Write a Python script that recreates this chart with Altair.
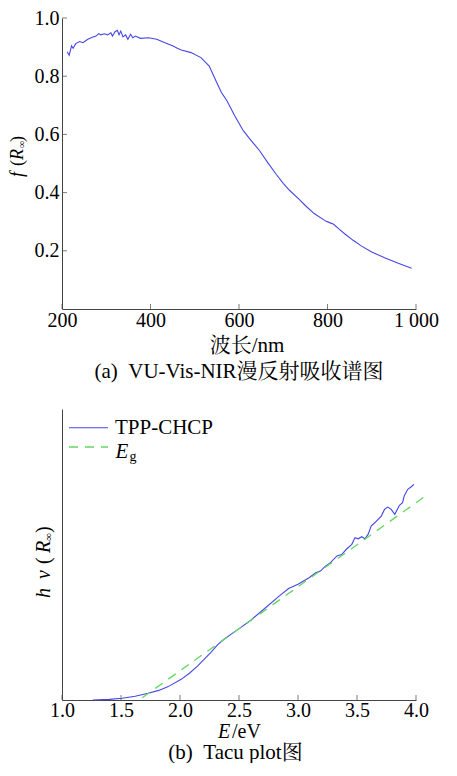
import altair as alt
import pandas as pd

# ---------- panel (a) data ----------
wavelength = [211.8, 216.2, 221.6, 225.1, 231.1, 240, 247.3, 258.4, 269.6, 277.1,
              282.9, 288.2, 295.6, 302.9, 310.4, 314, 320, 325.1, 328.9, 332.7,
              337.8, 343.8, 348.9, 354.9, 360, 366, 377.1, 395.6, 414, 432.7,
              451.1, 460.7, 469.6, 491.8, 514, 532.7, 547.3, 560, 573, 590,
              610, 628, 647, 665, 684, 700, 714, 736, 751, 770,
              796, 806, 814, 825, 840, 858, 877, 900, 929, 960, 990]
f_r = [0.884, 0.872, 0.904, 0.896, 0.912, 0.919, 0.915, 0.927, 0.935, 0.938,
       0.946, 0.942, 0.946, 0.942, 0.949, 0.938, 0.953, 0.958, 0.942, 0.955,
       0.935, 0.942, 0.927, 0.944, 0.932, 0.938, 0.930, 0.932, 0.927, 0.915,
       0.904, 0.896, 0.890, 0.881, 0.864, 0.835, 0.786, 0.745, 0.715, 0.665,
       0.612, 0.578, 0.543, 0.503, 0.463, 0.432, 0.408, 0.377, 0.354, 0.328,
       0.302, 0.296, 0.291, 0.276, 0.257, 0.236, 0.216, 0.196, 0.176, 0.157, 0.140]
x1_ticks = [200, 400, 600, 800, 1000]
y1_ticks = [0.2, 0.4, 0.6, 0.8, 1.0]

# ---------- panel (b) data ----------
energy = [1.26, 1.4, 1.51, 1.62, 1.73, 1.82, 1.9, 2.01, 2.08, 2.15,
          2.26, 2.32, 2.37, 2.44, 2.51, 2.6, 2.71, 2.84, 2.92, 3.0,
          3.05, 3.094, 3.15, 3.19, 3.233, 3.275, 3.33, 3.37, 3.41, 3.456,
          3.483, 3.51, 3.54, 3.567, 3.594, 3.62, 3.65, 3.706, 3.733, 3.76,
          3.79, 3.82, 3.86, 3.886, 3.9, 3.93, 3.96, 3.983]
hv_r = [0.0, 0.002, 0.006, 0.013, 0.023, 0.033, 0.046, 0.071, 0.092, 0.117,
        0.163, 0.19, 0.208, 0.228, 0.248, 0.274, 0.312, 0.357, 0.383, 0.398,
        0.41, 0.42, 0.437, 0.443, 0.46, 0.472, 0.495, 0.5, 0.518, 0.535,
        0.558, 0.554, 0.561, 0.554, 0.569, 0.598, 0.609, 0.632, 0.655, 0.663,
        0.655, 0.638, 0.669, 0.678, 0.701, 0.724, 0.733, 0.741]
eg_x = [1.68, 4.07]
eg_y = [0.008, 0.698]
x2_ticks = [1.0, 1.5, 2.0, 2.5, 3.0, 3.5, 4.0]

SERIF = "'Liberation Serif', 'Noto Serif CJK SC', 'Noto Sans CJK SC', serif"
W, H = 354, 291
BLUE = "#4646e6"
GREEN = "#62d862"
AXC = "#444444"
NB = "\u00a0"
C = W / 2


def txt(s, x, y, size=21, style="normal", angle=0, align="left", baseline="alphabetic"):
    return alt.Chart(pd.DataFrame({"t": [s]})).mark_text(
        font=SERIF, fontSize=size, fontStyle=style, angle=angle,
        align=align, baseline=baseline, color="black"
    ).encode(text="t:N", x=alt.value(x), y=alt.value(y))


# ---------- panel (a) ----------
xs1 = alt.Scale(domain=[200, 1000], nice=False)
ys1 = alt.Scale(domain=[0, 1], nice=False)
xax1 = alt.Axis(values=x1_ticks, ticks=False, tickSize=0, grid=False, title=None,
                labelFlush=False, labelOverlap=False, labelPadding=17,
                labelBaseline="alphabetic",
                labelExpr="datum.value == 1000 ? '1" + NB + "000' : datum.label")
yax1 = alt.Axis(values=y1_ticks, format=".1f", ticks=False, tickSize=0, grid=False,
                title=None, labelPadding=3, labelOverlap=False)

d1 = pd.DataFrame({"wl": wavelength, "f": f_r})
line1 = alt.Chart(d1).mark_line(color=BLUE, strokeWidth=1.1).encode(
    x=alt.X("wl:Q", scale=xs1, axis=xax1),
    y=alt.Y("f:Q", scale=ys1, axis=yax1),
)
xt1 = alt.Chart(pd.DataFrame({"v": x1_ticks})).mark_tick(
    color=AXC, size=5, thickness=1, orient="vertical"
).encode(x=alt.X("v:Q", scale=xs1, axis=xax1), y=alt.value(H - 2.5))
yt1 = alt.Chart(pd.DataFrame({"v": y1_ticks})).mark_tick(
    color=AXC, size=5, thickness=1, orient="horizontal"
).encode(y=alt.Y("v:Q", scale=ys1, axis=yax1), x=alt.value(2.5))

TX = -39
top = alt.layer(
    line1, xt1, yt1,
    txt("f", TX, 159, 18, "italic", 270),
    txt("(", TX, 148, 18, "normal", 270),
    txt("R", TX, 142, 18, "italic", 270),
    txt("\u221e", TX + 2, 130, 10, "normal", 270),
    txt(")", TX, 124, 18, "normal", 270),
    txt("波长/nm", C + 8, 334, 21, "normal", 0, "center"),
    txt("(a)" + NB + NB + "VU-Vis-NIR漫反射吸收谱图", C, 360, 21, "normal", 0, "center"),
).properties(width=W, height=H)

# ---------- panel (b) ----------
xs2 = alt.Scale(domain=[1.0, 4.0], nice=False)
ys2 = alt.Scale(domain=[0, 1], nice=False)
xax2 = alt.Axis(values=x2_ticks, format=".1f", ticks=False, tickSize=0, grid=False,
                title=None, labelFlush=False, labelOverlap=False, labelPadding=16,
                labelBaseline="alphabetic")
yax2 = alt.Axis(labels=False, ticks=False, tickSize=0, grid=False, title=None)

d2 = pd.DataFrame({"e": energy, "h": hv_r})
d3 = pd.DataFrame({"e": eg_x, "h": eg_y})
line2 = alt.Chart(d2).mark_line(color=BLUE, strokeWidth=1.1).encode(
    x=alt.X("e:Q", scale=xs2, axis=xax2),
    y=alt.Y("h:Q", scale=ys2, axis=yax2),
)
fit = alt.Chart(d3).mark_line(color=GREEN, strokeWidth=1.3, strokeDash=[9, 7]).encode(
    x=alt.X("e:Q", scale=xs2, axis=xax2),
    y=alt.Y("h:Q", scale=ys2, axis=yax2),
)
xt2 = alt.Chart(pd.DataFrame({"v": x2_ticks})).mark_tick(
    color=AXC, size=5, thickness=1, orient="vertical"
).encode(x=alt.X("v:Q", scale=xs2, axis=xax2), y=alt.value(H - 2.5))

leg_blue = alt.Chart(pd.DataFrame({"a": [0]})).mark_rule(color=BLUE, strokeWidth=1.1).encode(
    x=alt.value(7), x2=alt.value(46), y=alt.value(18.7))
leg_green = alt.Chart(pd.DataFrame({"a": [0]})).mark_rule(
    color=GREEN, strokeWidth=1.3, strokeDash=[9, 7]).encode(
    x=alt.value(7), x2=alt.value(46), y=alt.value(38))

bottom = alt.layer(
    line2, fit, xt2, leg_blue, leg_green,
    txt("TPP-CHCP", 53, 24.7, 21),
    txt("E", 53.5, 48.7, 21, "italic"),
    txt("g", 67.5, 51.5, 14),
    txt("h", -12, 189, 20, "italic", 270),
    txt("v", -12, 170, 20, "italic", 270),
    txt("(", -12, 155, 20, "normal", 270),
    txt("R", -12, 144, 20, "italic", 270),
    txt("\u221e", -10, 132, 11, "normal", 270),
    txt(")", -12, 124, 20, "normal", 270),
    txt("E", C - 21, 329, 20, "italic"),
    txt("/eV", C - 7, 329, 20),
    txt("(b)" + NB + NB + "Tacu plot图", C - 3.5, 350, 21, "normal", 0, "center"),
).properties(width=W, height=H)

chart = alt.vconcat(top, bottom, spacing=27).properties(
    padding={"left": 1, "top": 0, "right": 0, "bottom": 0}
).configure_view(stroke=None).configure_axis(
    domainColor=AXC, domainWidth=1, labelFont=SERIF, labelFontSize=20,
    labelColor="black"
)

chart.save("out.html", embed_options={"renderer": "svg", "actions": False})
